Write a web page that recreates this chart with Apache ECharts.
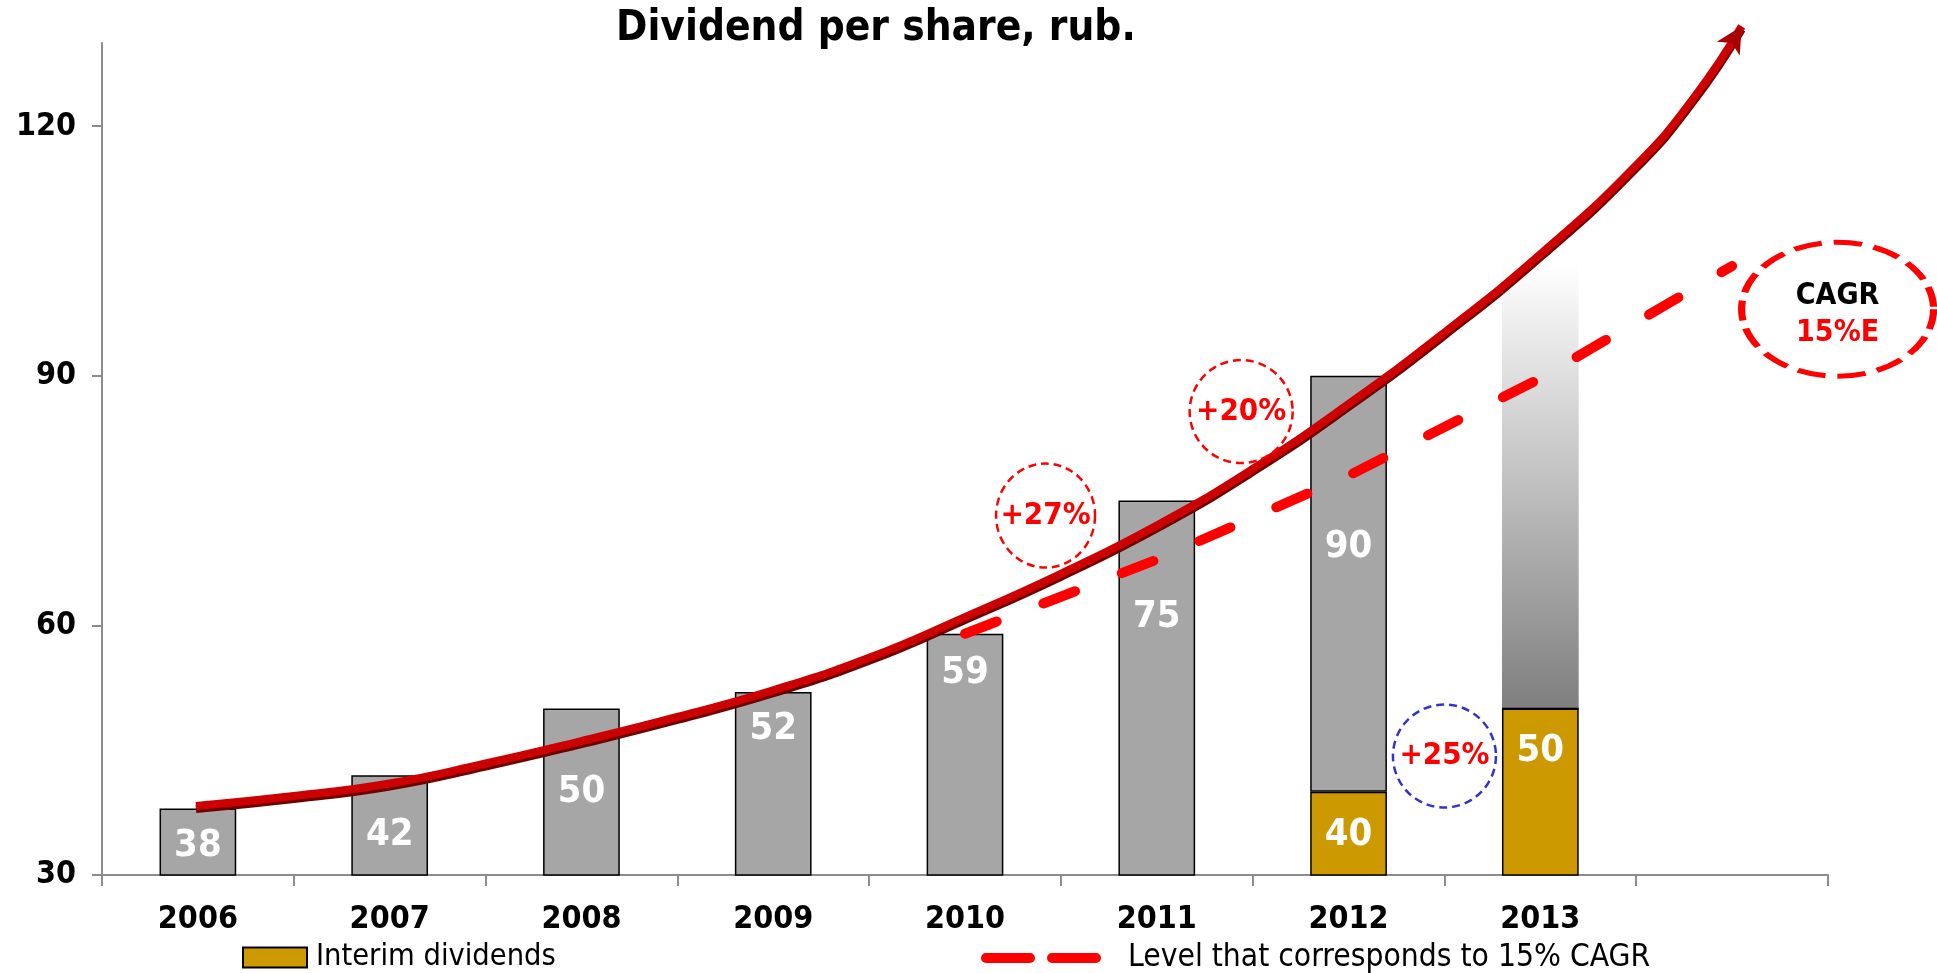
<!DOCTYPE html>
<html>
<head>
<meta charset="utf-8">
<script src="https://cdn.jsdelivr.net/npm/echarts@6/dist/echarts.min.js"></script>
<style>
  html, body { margin: 0; padding: 0; background: #fff; }
  #chart { width: 1937px; height: 973px; }
</style>
</head>
<body>
<div id="chart"></div>
<script>
// categories (last slot is empty, used by the trend arrow / CAGR end)
const years = ['2006', '2007', '2008', '2009', '2010', '2011', '2012', '2013', ''];
// total dividend per share, rub.
const totalDividend = [38, 42, 50, 52, 59, 75, 90, null, null];
// interim part
const interimDividend = [0, 0, 0, 0, 0, 0, 40, 50, null];
// expected 2013 total (gradient bar)
const expectedTotal = [null, null, null, null, null, null, null, 103.5, null];
// red growth arrow (x in category units, 0.5 = 2006)
const trendX = [0.49, 1.0, 1.5, 2.0, 2.5, 3.0, 3.5, 4.0, 4.5, 5.0, 5.5, 6.0, 6.5, 7.0, 7.5, 8.0, 8.3, 8.55];
const trendY = [38.3, 39.5, 41, 43.4, 46.1, 49, 52.2, 56.1, 61, 66.2, 72, 78.8, 86.6, 95.2, 104.6, 115.3, 123.4, 132];
// 15% CAGR level from 2010
const cagrLevel = [null, null, null, null, 59, 67.9, 78, 89.7, 103.2];
// circled annotations (x in category units, y in rub.)
const noteText = ['+27%', '+20%', '+25%'];
const noteX = [4.92, 5.94, 7.0];
const noteY = [73.2, 85.7, 44.3];
const cagrNote = { x: 9.05, y: 98 };

const yTicks = [30, 60, 90, 120];

// label drop inside gray bars (px from bar top)
const grayLabelDrop = [19, 41, 65, 18, 20, 98, 152, 0, 0];

const FONT = "'DejaVu Sans Condensed', 'Liberation Sans Narrow', 'DejaVu Sans', sans-serif";
const AXIS_GRAY = '#8c8c8c';

const chart = echarts.init(document.getElementById('chart'));

// gray part on top of the interim part
const grayPart = totalDividend.map((v, i) => {
  if (v == null) return 0;
  return v - (interimDividend[i] || 0);
});
const forecastPart = expectedTotal.map((v, i) => (v == null ? 0 : v - (interimDividend[i] || 0)));

const curveData = trendX.map((x, i) => {
  if (i === trendX.length - 1) {
    return {
      value: [x, trendY[i]],
      symbol: 'arrow',
      symbolSize: [20, 26],
      symbolRotate: -31,
      itemStyle: { color: '#a80000' },
    };
  }
  return [x, trendY[i]];
});

const noteData = noteText.map((t, i) => ({
  value: [noteX[i], noteY[i]],
  name: t,
  symbolSize: i === 0 ? [99, 104] : [103, 103],
  itemStyle: {
    color: 'rgba(0,0,0,0)',
    opacity: 1,
    borderColor: i === 2 ? '#3333cc' : '#ff0000',
    borderWidth: 2.5,
    borderType: [8, 5],
  },
}));

const option = {
  animation: false,
  title: {
    text: 'Dividend per share, rub.',
    left: 611,
    top: 3,
    textStyle: { fontFamily: FONT, fontSize: 42, fontWeight: 'bold', color: '#000' },
  },
  legend: [
    {
      data: ['Interim dividends'],
      left: 237,
      top: 937,
      icon: 'rect',
      itemWidth: 64,
      itemHeight: 20,
      textStyle: { fontFamily: FONT, fontSize: 30.5, color: '#000', padding: [0, 0, 0, 4] },
    },
    {
      data: ['Level that corresponds to 15% CAGR'],
      left: 976,
      top: 937,
      itemWidth: 110,
      itemHeight: 20,
      itemStyle: { opacity: 0 },
      lineStyle: { color: '#ff0000', width: 10, type: [44, 22], cap: 'round' },
      textStyle: { fontFamily: FONT, fontSize: 31.5, color: '#000', padding: [0, 0, 0, 27] },
    },
  ],
  grid: { left: 102, right: 109, top: 43, bottom: 98 },
  xAxis: [
    {
      type: 'category',
      data: years,
      axisLine: { show: true, lineStyle: { color: AXIS_GRAY, width: 2 } },
      axisTick: { show: true, inside: false, length: 11, lineStyle: { color: AXIS_GRAY, width: 2 } },
      axisLabel: {
        margin: 29,
        color: '#000',
        fontFamily: FONT,
        fontSize: 32,
        fontWeight: 'bold',
      },
    },
    { type: 'value', min: 0, max: 9, show: false },
  ],
  yAxis: {
    type: 'value',
    min: 30,
    max: 130,
    interval: 30,
    splitLine: { show: false },
    axisLine: { show: true, lineStyle: { color: AXIS_GRAY, width: 2 } },
    axisTick: { show: true, inside: false, length: 10, customValues: yTicks, lineStyle: { color: AXIS_GRAY, width: 2 } },
    axisLabel: {
      customValues: yTicks,
      margin: 26,
      color: '#000',
      fontFamily: FONT,
      fontSize: 32,
      fontWeight: 'bold',
    },
  },
  series: [
    {
      name: 'Interim dividends',
      type: 'bar',
      stack: 'div',
      barWidth: '40%',
      data: interimDividend,
      itemStyle: { color: '#cc9900', borderColor: '#000', borderWidth: 1.5 },
      label: {
        show: true,
        position: 'insideTop',
        distance: 24,
        color: '#fff',
        fontFamily: FONT,
        fontSize: 38,
        fontWeight: 'bold',
        formatter: (p) => (p.value ? String(p.value) : ''),
      },
      z: 2,
    },
    {
      name: 'Dividend',
      type: 'bar',
      stack: 'div',
      barWidth: '40%',
      data: grayPart.map((v, i) => ({ value: v, label: { distance: grayLabelDrop[i] } })),
      itemStyle: { color: '#a6a6a6', borderColor: '#000', borderWidth: 1.5 },
      label: {
        show: true,
        position: 'insideTop',
        color: '#fff',
        fontFamily: FONT,
        fontSize: 38,
        fontWeight: 'bold',
        formatter: (p) => (totalDividend[p.dataIndex] != null ? String(totalDividend[p.dataIndex]) : ''),
      },
      z: 2,
    },
    {
      name: 'Expected',
      type: 'bar',
      stack: 'div',
      barWidth: '40%',
      data: forecastPart,
      itemStyle: {
        color: {
          type: 'linear', x: 0, y: 0, x2: 0, y2: 1,
          colorStops: [
            { offset: 0, color: '#ffffff' },
            { offset: 1, color: '#7f7f7f' },
          ],
        },
      },
      z: 1,
    },
    {
      name: 'Level that corresponds to 15% CAGR',
      type: 'line',
      data: cagrLevel,
      symbol: 'none',
      clip: false,
      lineStyle: { color: '#ff0000', width: 10, type: [34, 50], cap: 'round' },
      itemStyle: { color: '#ff0000' },
      z: 4,
    },
    {
      name: 'Trend',
      type: 'line',
      xAxisIndex: 1,
      data: curveData,
      smooth: 0.5,
      symbol: 'none',
      showSymbol: true,
      clip: false,
      lineStyle: {
        color: '#cc0000',
        width: 8,
        shadowColor: '#6e0000',
        shadowOffsetY: 3,
        shadowBlur: 0,
      },
      z: 5,
    },
    {
      name: 'Notes',
      type: 'scatter',
      xAxisIndex: 1,
      clip: false,
      data: noteData,
      label: {
        show: true,
        position: 'inside',
        formatter: '{b}',
        color: '#ff0000',
        fontFamily: FONT,
        fontSize: 31,
        fontWeight: 'bold',
      },
      z: 6,
    },
    {
      name: 'CAGR note',
      type: 'scatter',
      xAxisIndex: 1,
      clip: false,
      data: [{ value: [cagrNote.x, cagrNote.y] }],
      symbolSize: [192, 134],
      itemStyle: {
        color: 'rgba(0,0,0,0)',
        opacity: 1,
        borderColor: '#ff0000',
        borderWidth: 6,
        borderType: [24, 10],
      },
      label: {
        show: true,
        position: 'inside',
        offset: [0, 5],
        formatter: '{a|CAGR}\n{b|15%E}',
        rich: {
          a: { color: '#000', fontFamily: FONT, fontSize: 30, fontWeight: 'bold', lineHeight: 37 },
          b: { color: '#ff0000', fontFamily: FONT, fontSize: 30, fontWeight: 'bold', lineHeight: 37 },
        },
      },
      z: 6,
    },
  ],
};

chart.setOption(option);
</script>
</body>
</html>
